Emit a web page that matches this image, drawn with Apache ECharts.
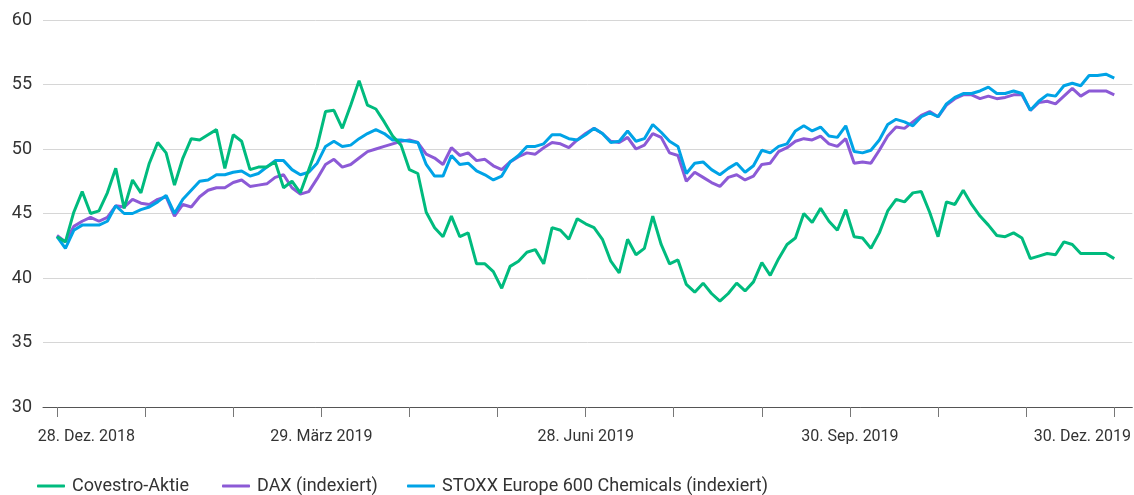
<!DOCTYPE html>
<html>
<head>
<meta charset="utf-8">
<script src="https://cdn.jsdelivr.net/npm/echarts@6/dist/echarts.min.js"></script>
<style>
	html, body { margin: 0; padding: 0; background: #fff; }
	#chart { width: 1134px; height: 495px; }
</style>
</head>
<body>
<div id="chart"></div>
<script>
// one value every second trading day, 28.12.2018 .. 30.12.2019
const covestro = [
	43.2, 42.8, 45.1, 46.7, 45.0, 45.2, 46.6, 48.5, 45.4, 47.6,
	46.6, 48.9, 50.5, 49.7, 47.2, 49.3, 50.8, 50.7, 51.1, 51.5,
	48.5, 51.1, 50.6, 48.4, 48.6, 48.6, 49.0, 47.0, 47.5, 46.6,
	48.4, 50.2, 52.9, 53.0, 51.6, 53.4, 55.3, 53.4, 53.1, 52.1,
	51.0, 50.3, 48.4, 48.1, 45.1, 43.9, 43.2, 44.8, 43.2, 43.5,
	41.1, 41.1, 40.5, 39.2, 40.9, 41.3, 42.0, 42.2, 41.1, 43.9,
	43.7, 43.0, 44.6, 44.2, 43.9, 43.0, 41.3, 40.4, 43.0, 41.8,
	42.3, 44.8, 42.6, 41.1, 41.4, 39.5, 38.9, 39.6, 38.8, 38.2,
	38.8, 39.6, 39.0, 39.7, 41.2, 40.2, 41.5, 42.6, 43.1, 45.0,
	44.3, 45.4, 44.4, 43.7, 45.3, 43.2, 43.1, 42.3, 43.5, 45.2,
	46.1, 45.9, 46.6, 46.7, 45.1, 43.2, 45.9, 45.7, 46.8, 45.7,
	44.8, 44.1, 43.3, 43.2, 43.5, 43.1, 41.5, 41.7, 41.9, 41.8,
	42.8, 42.6, 41.9, 41.9, 41.9, 41.9, 41.5
];
const dax = [
	43.3, 42.8, 44.0, 44.4, 44.7, 44.4, 44.7, 45.6, 45.5, 46.1,
	45.8, 45.7, 46.1, 46.3, 44.8, 45.7, 45.5, 46.3, 46.8, 47.0,
	47.0, 47.4, 47.6, 47.1, 47.2, 47.3, 47.8, 48.0, 47.0, 46.5,
	46.7, 47.7, 48.8, 49.2, 48.6, 48.8, 49.3, 49.8, 50.0, 50.2,
	50.4, 50.6, 50.7, 50.5, 49.6, 49.3, 48.8, 50.1, 49.5, 49.7,
	49.1, 49.2, 48.7, 48.4, 49.0, 49.4, 49.7, 49.6, 50.1, 50.5,
	50.4, 50.1, 50.7, 51.2, 51.6, 51.2, 50.6, 50.5, 50.9, 50.0,
	50.3, 51.2, 50.9, 49.7, 49.5, 47.5, 48.2, 47.8, 47.4, 47.1,
	47.8, 48.0, 47.6, 47.9, 48.8, 48.9, 49.8, 50.1, 50.6, 50.8,
	50.7, 51.0, 50.4, 50.2, 50.8, 48.9, 49.0, 48.9, 49.9, 51.0,
	51.7, 51.6, 52.1, 52.6, 52.9, 52.5, 53.4, 53.9, 54.2, 54.2,
	53.9, 54.1, 53.9, 54.0, 54.2, 54.2, 53.0, 53.6, 53.7, 53.5,
	54.1, 54.7, 54.1, 54.5, 54.5, 54.5, 54.2
];
const stoxx = [
	43.2, 42.3, 43.7, 44.1, 44.1, 44.1, 44.4, 45.6, 45.0, 45.0,
	45.3, 45.5, 45.9, 46.4, 45.0, 46.1, 46.8, 47.5, 47.6, 48.0,
	48.0, 48.2, 48.3, 47.9, 48.1, 48.6, 49.1, 49.1, 48.4, 48.0,
	48.2, 48.9, 50.2, 50.6, 50.2, 50.3, 50.8, 51.2, 51.5, 51.2,
	50.7, 50.7, 50.6, 50.5, 48.8, 47.9, 47.9, 49.5, 48.8, 48.9,
	48.3, 48.0, 47.6, 47.9, 49.0, 49.5, 50.2, 50.2, 50.4, 51.1,
	51.1, 50.8, 50.7, 51.1, 51.6, 51.2, 50.5, 50.6, 51.4, 50.6,
	50.8, 51.9, 51.3, 50.6, 50.2, 48.1, 48.9, 49.0, 48.4, 48.0,
	48.5, 48.9, 48.2, 48.7, 49.9, 49.7, 50.2, 50.4, 51.4, 51.8,
	51.4, 51.7, 51.0, 50.9, 51.8, 49.8, 49.7, 49.9, 50.7, 51.9,
	52.3, 52.1, 51.8, 52.5, 52.8, 52.5, 53.5, 54.0, 54.3, 54.3,
	54.5, 54.8, 54.3, 54.3, 54.5, 54.3, 53.0, 53.7, 54.2, 54.1,
	54.9, 55.1, 54.9, 55.7, 55.7, 55.8, 55.5
];
const seriesNames = ['Covestro-Aktie', 'DAX (indexiert)', 'STOXX Europe 600 Chemicals (indexiert)'];
const tickLabels = ['28. Dez. 2018', '29. März 2019', '28. Juni 2019', '30. Sep. 2019', '30. Dez. 2019'];

const colors = ['#00bb7e', '#8c5ad6', '#00a3e6'];
const legendLeft = [37, 222, 407];
const last = covestro.length - 1;
const monthStep = last / 12;
const tickValues = [];
for (let i = 0; i <= 12; i++) tickValues.push(i * monthStep);
// quarter labels; first and last are pulled inside like in the print layout
const labelValues = [3.5, 3 * monthStep, 6 * monthStep, 9 * monthStep, last - 3.8];

const toPoints = (arr) => arr.map((v, i) => [i, v]);

const chart = echarts.init(document.getElementById('chart'));
chart.setOption({
	animation: false,
	color: colors,
	textStyle: { fontFamily: 'Roboto, sans-serif' },
	grid: { left: 43, right: 1, top: 20, bottom: 88, containLabel: false },
	// one legend per item so the entries sit where the print layout has them
	legend: seriesNames.map((name, i) => ({
		left: legendLeft[i],
		top: 477,
		padding: 0,
		itemWidth: 28,
		itemHeight: 3,
		icon: 'roundRect',
		textStyle: { fontSize: 18, color: '#333', padding: [0, 0, 0, 2] },
		data: [name],
	})),
	xAxis: {
		type: 'value',
		min: -1.67,
		max: 128.15,
		splitLine: { show: false },
		axisLine: { show: true, lineStyle: { color: '#555', width: 1 } },
		axisTick: {
			show: true,
			length: 10,
			lineStyle: { color: '#777' },
			customValues: tickValues,
		},
		axisLabel: {
			customValues: labelValues,
			margin: 22,
			fontSize: 16,
			color: '#333',
			formatter: (value) => {
				const k = labelValues.findIndex((v) => Math.abs(v - value) < 0.01);
				return k >= 0 ? tickLabels[k] : '';
			},
		},
	},
	yAxis: {
		type: 'value',
		min: 30,
		max: 60,
		interval: 5,
		axisLine: { show: false },
		axisTick: { show: false },
		axisLabel: { fontSize: 18, color: '#333', margin: 11 },
		splitLine: { lineStyle: { color: '#d6d6d6', width: 1 } },
	},
	series: [
		{ name: seriesNames[0], type: 'line', data: toPoints(covestro), z: 4 },
		{ name: seriesNames[1], type: 'line', data: toPoints(dax), z: 2 },
		{ name: seriesNames[2], type: 'line', data: toPoints(stoxx), z: 3 },
	].map((s) => ({
		...s,
		showSymbol: false,
		symbol: 'none',
		lineStyle: { width: 3 },
		emphasis: { disabled: true },
	})),
});
</script>
</body>
</html>
